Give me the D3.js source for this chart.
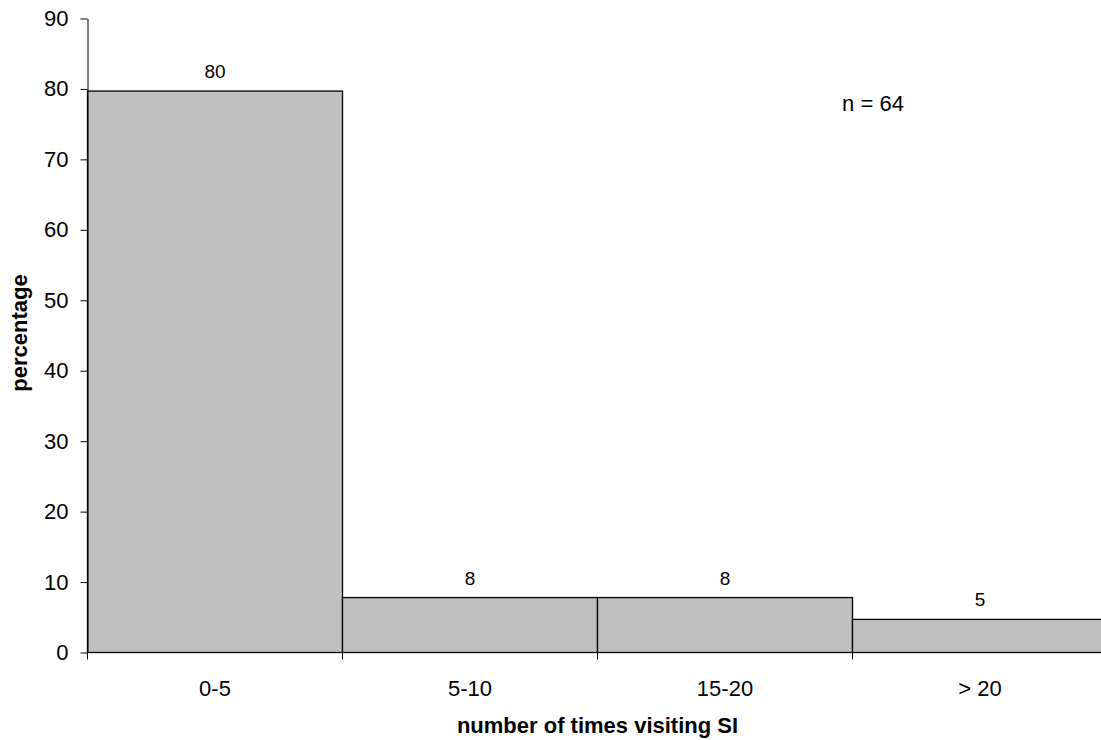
<!DOCTYPE html>
<html><head><meta charset="utf-8">
<script src="https://cdn.jsdelivr.net/npm/d3@7"></script>
<style>body{margin:0;background:#fff;} svg{display:block;font-family:"Liberation Sans",Arial,sans-serif;}</style>
</head><body>
<svg id="c" width="1101" height="740"></svg>
<script>
const categories = ["0-5", "5-10", "15-20", "> 20"];
const values = [79.7, 7.8, 7.8, 4.7];
const valueLabels = ["80", "8", "8", "5"];
const yTicks = [0, 10, 20, 30, 40, 50, 60, 70, 80, 90];
const note = "n = 64";
const xTitle = "number of times visiting SI";
const yTitle = "percentage";

const svg = d3.select("#c");
const x0 = 87.5, x1 = 1107.5, yBottom = 652.5, yTop = 18.5;
const x = d3.scaleBand().domain(categories).range([x0, x1]).padding(0);
const y = d3.scaleLinear().domain([0, 90]).range([yBottom, yTop]);

svg.selectAll("rect.bar").data(categories).join("rect")
  .attr("class", "bar")
  .attr("x", d => x(d)).attr("width", x.bandwidth())
  .attr("y", (d, i) => y(values[i])).attr("height", (d, i) => y(0) - y(values[i]))
  .attr("fill", "#c0c0c0").attr("stroke", "#000").attr("stroke-width", 1.3);

svg.selectAll("text.vl").data(categories).join("text")
  .attr("class", "vl")
  .attr("x", d => x(d) + x.bandwidth() / 2)
  .attr("y", (d, i) => y(values[i]) - 13)
  .attr("text-anchor", "middle").attr("font-size", 19).attr("fill", "#000")
  .text((d, i) => valueLabels[i]);

// y axis
const ya = svg.append("g").attr("transform", `translate(${x0},0)`)
  .call(d3.axisLeft(y).tickValues(yTicks).tickSize(7).tickPadding(12).tickSizeOuter(0));
ya.select(".domain").attr("stroke", "#000");
ya.selectAll("text").attr("font-size", 22).attr("fill", "#000").attr("font-family", "Liberation Sans, Arial, sans-serif");

// x axis
const xa = svg.append("g").attr("transform", `translate(0,${yBottom})`);
xa.append("line").attr("x1", x0).attr("x2", x1).attr("y1", 0).attr("y2", 0).attr("stroke", "#000");
const bounds = categories.map(d => x(d)).concat([x1]);
xa.selectAll("line.t").data(bounds).join("line").attr("class", "t")
  .attr("x1", d => d).attr("x2", d => d).attr("y1", 0).attr("y2", 7).attr("stroke", "#000");
xa.selectAll("text").data(categories).join("text")
  .attr("x", d => x(d) + x.bandwidth() / 2).attr("y", 43)
  .attr("text-anchor", "middle").attr("font-size", 22).attr("fill", "#000")
  .text(d => d);

svg.append("text").attr("x", (x0 + x1) / 2).attr("y", 733).attr("text-anchor", "middle")
  .attr("font-size", 22).attr("font-weight", "bold").text(xTitle);
svg.append("text").attr("transform", "translate(27,333) rotate(-90)").attr("text-anchor", "middle")
  .attr("font-size", 22).attr("font-weight", "bold").text(yTitle);
svg.append("text").attr("x", 873).attr("y", 111).attr("text-anchor", "middle")
  .attr("font-size", 22).text(note);
</script>
</body></html>
